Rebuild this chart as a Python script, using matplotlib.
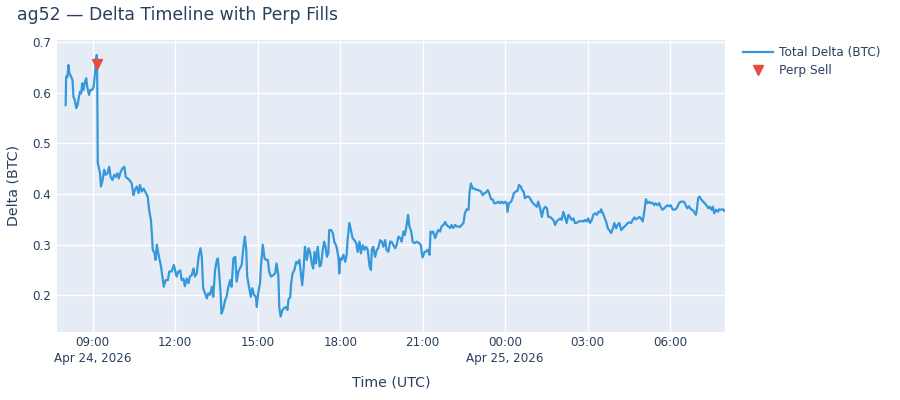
"""ag52 delta timeline with perp fills, redrawn with matplotlib."""
import numpy as np
import pandas as pd
import matplotlib
matplotlib.use("Agg")
import matplotlib.pyplot as plt
from matplotlib.lines import Line2D

# minutes after 2026-04-24 00:00 UTC, and total delta in BTC
delta_minutes = [
    481, 482, 485, 487, 489, 493, 496, 498, 501, 504, 507, 509, 512, 515, 517,
    520, 523, 526, 528, 532, 535, 539, 542, 545, 547, 549, 550, 551, 553, 556,
    558, 561, 565, 568, 572, 576, 579, 583, 587, 590, 594, 597, 601, 605, 609,
    612, 616, 620, 625, 629, 632, 636, 640, 643, 647, 651, 656, 660, 663, 667,
    669, 671, 675, 677, 680, 683, 686, 689, 692, 695, 699, 704, 707, 712, 717,
    723, 727, 731, 734, 738, 741, 745, 749, 752, 756, 760, 763, 767, 771, 775,
    778, 781, 785, 789, 792, 796, 800, 803, 807, 811, 813, 816, 819, 821, 825,
    829, 832, 836, 840, 843, 847, 851, 854, 858, 861, 865, 869, 872, 875, 877,
    881, 885, 888, 892, 896, 898, 901, 905, 907, 911, 915, 918, 922, 925, 929,
    934, 938, 941, 945, 947, 950, 954, 957, 961, 965, 967, 971, 973, 976, 980,
    984, 987, 991, 995, 997, 1000, 1003, 1007, 1011, 1014, 1018, 1021, 1024,
    1027, 1031, 1035, 1038, 1042, 1045, 1048, 1051, 1054, 1056, 1060, 1064,
    1067, 1072, 1076, 1078, 1080, 1083, 1087, 1091, 1094, 1096, 1100, 1104,
    1107, 1111, 1115, 1118, 1122, 1125, 1129, 1133, 1136, 1140, 1144, 1147,
    1149, 1152, 1156, 1160, 1163, 1167, 1171, 1174, 1178, 1181, 1185, 1189,
    1192, 1196, 1200, 1203, 1207, 1211, 1214, 1218, 1221, 1225, 1228, 1231,
    1235, 1238, 1242, 1247, 1252, 1256, 1258, 1260, 1264, 1267, 1271, 1275,
    1277, 1280, 1283, 1287, 1291, 1294, 1298, 1301, 1305, 1309, 1312, 1316,
    1320, 1323, 1327, 1331, 1334, 1338, 1341, 1345, 1349, 1352, 1356, 1360,
    1362, 1365, 1369, 1373, 1376, 1380, 1384, 1387, 1391, 1395, 1398, 1402,
    1405, 1409, 1413, 1416, 1420, 1425, 1429, 1432, 1436, 1440, 1443, 1445,
    1448, 1453, 1456, 1459, 1463, 1467, 1470, 1474, 1477, 1480, 1483, 1487,
    1491, 1494, 1498, 1501, 1505, 1509, 1512, 1516, 1520, 1523, 1527, 1531,
    1534, 1538, 1541, 1545, 1549, 1552, 1556, 1560, 1563, 1567, 1571, 1574,
    1578, 1581, 1585, 1589, 1592, 1596, 1600, 1603, 1607, 1611, 1614, 1618,
    1621, 1625, 1629, 1632, 1636, 1640, 1643, 1647, 1649, 1653, 1656, 1660,
    1664, 1667, 1671, 1675, 1678, 1682, 1685, 1689, 1693, 1696, 1700, 1704,
    1707, 1711, 1715, 1718, 1722, 1725, 1729, 1733, 1736, 1740, 1744, 1747,
    1750, 1754, 1757, 1761, 1765, 1768, 1772, 1776, 1779, 1783, 1787, 1790,
    1794, 1797, 1801, 1805, 1808, 1812, 1816, 1819, 1823, 1827, 1830, 1834,
    1837, 1841, 1845, 1848, 1852, 1856, 1858, 1861, 1864, 1868, 1872, 1875,
    1879, 1883, 1886, 1890, 1893, 1896, 1900, 1904, 1907, 1911, 1915, 1918,
]
delta_btc = [
    0.576, 0.632, 0.632, 0.655, 0.639, 0.632, 0.625, 0.592, 0.586, 0.570, 0.576, 0.586, 0.602, 0.599, 0.619,
    0.606, 0.622, 0.629, 0.612, 0.596, 0.606, 0.606, 0.612, 0.639, 0.665, 0.675, 0.612, 0.461, 0.454, 0.441,
    0.415, 0.425, 0.448, 0.438, 0.441, 0.454, 0.434, 0.428, 0.438, 0.434, 0.441, 0.431, 0.444, 0.451, 0.454,
    0.434, 0.431, 0.428, 0.421, 0.398, 0.408, 0.415, 0.402, 0.418, 0.405, 0.411, 0.402, 0.395, 0.369, 0.349,
    0.323, 0.290, 0.283, 0.270, 0.300, 0.283, 0.270, 0.257, 0.237, 0.217, 0.230, 0.230, 0.247, 0.247, 0.260,
    0.237, 0.247, 0.249, 0.230, 0.233, 0.218, 0.233, 0.224, 0.237, 0.240, 0.253, 0.237, 0.243, 0.276, 0.293,
    0.276, 0.214, 0.204, 0.194, 0.204, 0.201, 0.217, 0.197, 0.250, 0.270, 0.273, 0.243, 0.204, 0.164, 0.174,
    0.191, 0.197, 0.217, 0.230, 0.217, 0.273, 0.276, 0.227, 0.247, 0.253, 0.260, 0.296, 0.316, 0.290, 0.237,
    0.217, 0.197, 0.214, 0.201, 0.197, 0.177, 0.204, 0.224, 0.257, 0.300, 0.273, 0.270, 0.270, 0.247, 0.237,
    0.240, 0.243, 0.263, 0.240, 0.177, 0.158, 0.171, 0.174, 0.177, 0.171, 0.191, 0.197, 0.224, 0.243, 0.250,
    0.266, 0.263, 0.270, 0.237, 0.220, 0.250, 0.296, 0.270, 0.293, 0.286, 0.263, 0.253, 0.286,
    0.263, 0.296, 0.257, 0.260, 0.290, 0.306, 0.296, 0.276, 0.283, 0.329, 0.329, 0.323,
    0.306, 0.296, 0.276, 0.243, 0.273, 0.270, 0.280, 0.266, 0.280, 0.309, 0.343, 0.326,
    0.313, 0.309, 0.303, 0.286, 0.306, 0.283, 0.299, 0.290, 0.296, 0.290, 0.257, 0.250,
    0.290, 0.296, 0.276, 0.290, 0.293, 0.309, 0.306, 0.296, 0.309, 0.290, 0.286, 0.306,
    0.306, 0.299, 0.293, 0.299, 0.316, 0.313, 0.306, 0.326, 0.319, 0.339, 0.359, 0.336,
    0.326, 0.306, 0.303, 0.306, 0.303, 0.299, 0.283, 0.275, 0.286, 0.286, 0.290, 0.280,
    0.326, 0.323, 0.326, 0.313, 0.323, 0.329, 0.326, 0.336, 0.339, 0.345, 0.339, 0.336,
    0.333, 0.339, 0.333, 0.339, 0.336, 0.336, 0.335, 0.339, 0.343, 0.362, 0.370, 0.369,
    0.402, 0.421, 0.411, 0.411, 0.409, 0.408, 0.407, 0.405, 0.398, 0.402, 0.403, 0.408,
    0.402, 0.390, 0.389, 0.382, 0.382, 0.385, 0.382, 0.385, 0.382, 0.385, 0.382, 0.365,
    0.382, 0.385, 0.392, 0.402, 0.405, 0.407, 0.418, 0.415, 0.408, 0.405, 0.392, 0.395,
    0.395, 0.392, 0.385, 0.382, 0.378, 0.375, 0.385, 0.372, 0.355, 0.369, 0.375, 0.372,
    0.355, 0.355, 0.352, 0.349, 0.339, 0.346, 0.349, 0.352, 0.349, 0.365, 0.352, 0.343,
    0.359, 0.355, 0.349, 0.352, 0.343, 0.343, 0.346, 0.346, 0.347, 0.346, 0.349, 0.346,
    0.352, 0.343, 0.349, 0.359, 0.362, 0.359, 0.365, 0.364, 0.370, 0.362, 0.355, 0.346,
    0.332, 0.329, 0.323, 0.332, 0.343, 0.332, 0.339, 0.343, 0.329, 0.332, 0.336, 0.339,
    0.343, 0.344, 0.343, 0.349, 0.354, 0.350, 0.352, 0.355, 0.352, 0.346, 0.369, 0.390,
    0.382, 0.385, 0.382, 0.383, 0.378, 0.382, 0.378, 0.382, 0.375, 0.369, 0.372, 0.375,
    0.378, 0.376, 0.378, 0.370, 0.369, 0.370, 0.375, 0.382, 0.385, 0.385, 0.385, 0.378,
    0.372, 0.376, 0.370, 0.369, 0.365, 0.359, 0.369, 0.392, 0.395, 0.389, 0.385, 0.382,
    0.378, 0.372, 0.375, 0.369, 0.375, 0.362, 0.369, 0.365, 0.370, 0.369, 0.370, 0.367,
]

# perp fills
sell_minutes = [549]
sell_delta = [0.657]

X_RANGE_MIN = (461, 1919.5)
Y_RANGE = (0.1275, 0.7045)
TICK_HOURS = [9, 12, 15, 18, 21, 24, 27, 30]

DAY0 = pd.Timestamp("2026-04-24")
TEXT = "#2a3f5f"
LINE_BLUE = "#3498db"
SELL_RED = "#e74c3c"


def to_time(minutes):
    return DAY0 + pd.to_timedelta(np.asarray(minutes, dtype=float), unit="min")


def tick_label(ts, first):
    lab = ts.strftime("%H:%M")
    if ts.hour == 0 or first:
        lab += "\n" + ts.strftime("%b %d, %Y")
    return lab


plt.rcParams["font.family"] = ["DejaVu Sans"]

fig = plt.figure(figsize=(9, 4), dpi=100)
ax = fig.add_axes([56.5 / 900, 68 / 400, 668.5 / 900, 292 / 400])
ax.set_facecolor("#E5ECF6")
for s in ax.spines.values():
    s.set_visible(False)

t = to_time(delta_minutes)
ax.plot(t, delta_btc, color=LINE_BLUE, lw=1.6, zorder=3)
ax.plot(to_time(sell_minutes), sell_delta, ls="none", marker="v",
        ms=7.5, color=SELL_RED, zorder=4)

ax.set_xlim(to_time(X_RANGE_MIN[0]), to_time(X_RANGE_MIN[1]))
ax.set_ylim(*Y_RANGE)

ticks = [DAY0 + pd.Timedelta(hours=h) for h in TICK_HOURS]
ax.set_xticks(ticks)
ax.set_xticklabels([tick_label(tk, i == 0) for i, tk in enumerate(ticks)],
                   linespacing=1.3)
ax.set_yticks([0.2, 0.3, 0.4, 0.5, 0.6, 0.7])
ax.set_yticklabels(["0.2", "0.3", "0.4", "0.5", "0.6", "0.7"])
ax.tick_params(axis="both", length=0, labelsize=8.6, labelcolor=TEXT)
ax.tick_params(axis="x", pad=3)
ax.tick_params(axis="y", pad=4)
ax.grid(True, color="white", lw=1.0, zorder=0)
ax.set_axisbelow(True)

ax.set_xlabel("Time (UTC)", fontsize=10.2, color=TEXT, va="center")
ax.xaxis.set_label_coords(0.5, -50 / 292)
ax.set_ylabel("Delta (BTC)", fontsize=10.2, color=TEXT, va="center")
ax.yaxis.set_label_coords(-42.5 / 668.5, 0.5)

fig.text(17 / 900, 1 - 15 / 400, "ag52 \u2014 Delta Timeline with Perp Fills",
         fontsize=12.4, color=TEXT, va="center", ha="left")

handles = [
    Line2D([], [], color=LINE_BLUE, lw=1.6),
    Line2D([], [], ls="none", marker="v", ms=7, color=SELL_RED),
]
fig.legend(handles, ["Total Delta (BTC)", "Perp Sell"], loc="upper left",
           bbox_to_anchor=(743 / 900, 1 - 46 / 400), frameon=False,
           fontsize=8.7, labelcolor=TEXT, handlelength=2.5,
           handletextpad=0.5, labelspacing=0.45, borderpad=0,
           borderaxespad=0)

fig.savefig("out.png", dpi=100, facecolor="white")
plt.close(fig)
